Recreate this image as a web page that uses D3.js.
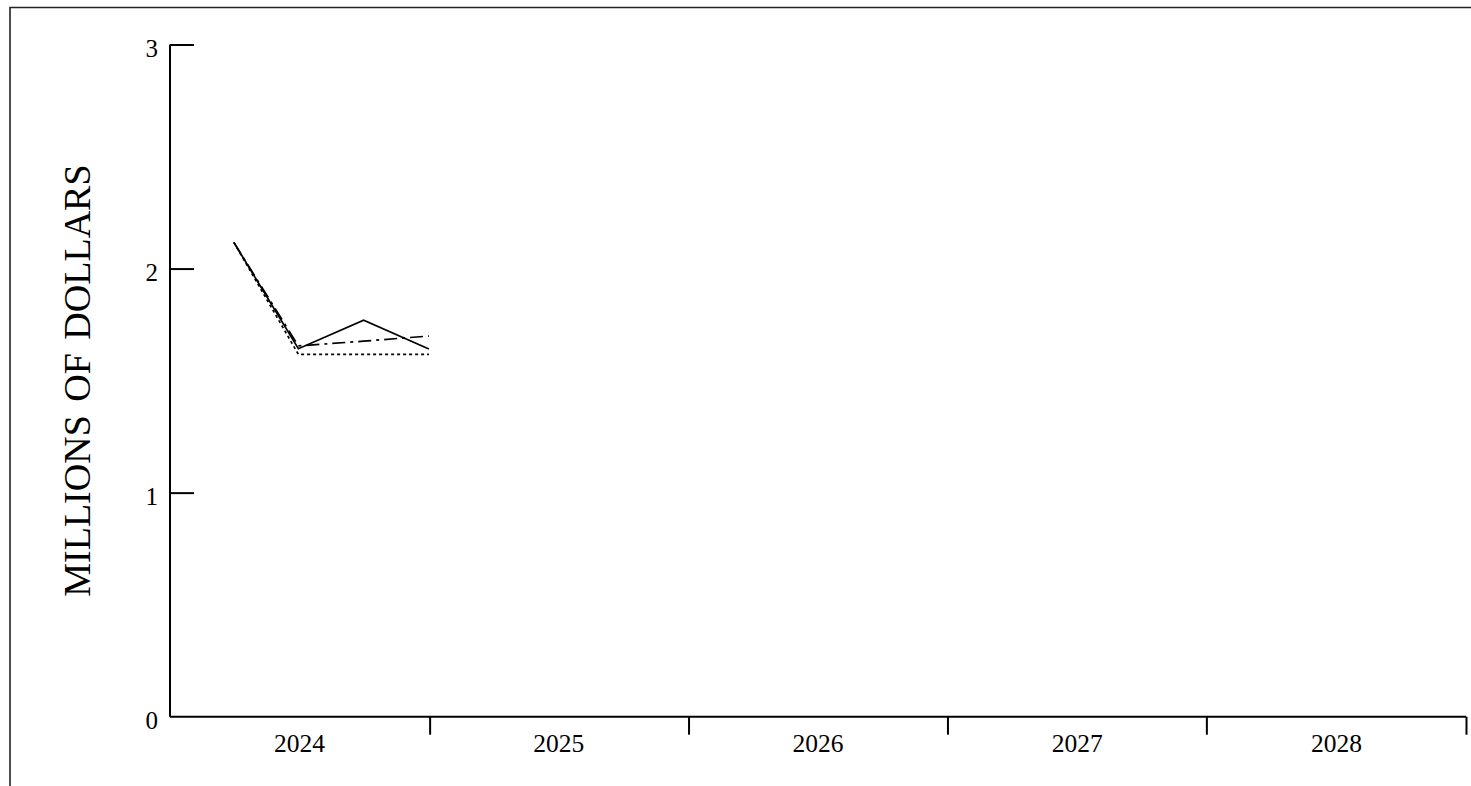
<!DOCTYPE html>
<html>
<head>
<meta charset="utf-8">
<script src="https://cdn.jsdelivr.net/npm/d3@7"></script>
<style>
  html, body { margin: 0; padding: 0; background: #fff; }
  svg { display: block; }
  text { font-family: "Liberation Serif", "Times New Roman", Times, serif; fill: #000; }
</style>
</head>
<body>
<svg id="chart" width="1471" height="786"></svg>
<script>
// ---- data ----
const categories = ["2024", "2025", "2026", "2027", "2028"];
const dates = ["2024-03-31", "2024-06-30", "2024-09-30", "2024-12-31"];
const actualValues = [2.117, 1.642, 1.770, 1.641];
const dashDotValues = [2.117, 1.655, 1.676, 1.699];
const dottedValues = [2.117, 1.617, 1.617, 1.617];
const yTickValues = [0, 1, 2, 3];
const yTitle = "MILLIONS OF DOLLARS";

// ---- layout ----
const W = 1471, H = 786;
const mLeft = 170, mRight = 1466, mTop = 44.5, mBottom = 716.7;

const svg = d3.select("#chart");
const parse = d3.utcParse("%Y-%m-%d");

const x = d3.scaleUtc()
  .domain([parse("2024-01-01"), parse("2029-01-01")])
  .range([mLeft, mRight]);
const xBand = d3.scaleBand().domain(categories).range([mLeft, mRight]).padding(0);
const y = d3.scaleLinear().domain([0, 3]).range([mBottom, mTop]);

// frame lines (top and left)
svg.append("path")
  .attr("d", d3.line()([[10, H], [10, 7.5], [W, 7.5]]))
  .attr("fill", "none").attr("stroke", "#222").attr("stroke-width", 1.6);

// y axis
const yAxis = svg.append("g").attr("transform", `translate(${mLeft},0)`)
  .call(d3.axisRight(y).tickValues(yTickValues).tickSize(24).tickFormat(""));
yAxis.select(".domain").attr("d", `M0,${mTop}V${mBottom}`);
yAxis.selectAll("line,path").attr("stroke", "#000").attr("stroke-width", 2);
yAxis.selectAll(".tick").filter(d => d === 0).select("line").remove();

svg.append("g").selectAll("text").data(yTickValues).join("text")
  .attr("x", mLeft - 12).attr("y", d => y(d) + 12)
  .attr("text-anchor", "end").attr("font-size", 25)
  .text(d => d);

// x axis
const xAxis = svg.append("g").attr("transform", `translate(0,${mBottom})`)
  .call(d3.axisBottom(x)
    .tickValues(categories.map(c => parse((+c + 1) + "-01-01")))
    .tickSize(18).tickFormat(""));
xAxis.select(".domain").attr("d", `M${mLeft},0H${mRight}`);
xAxis.selectAll("line,path").attr("stroke", "#000").attr("stroke-width", 2);

svg.append("g").selectAll("text").data(categories).join("text")
  .attr("x", d => xBand(d) + xBand.bandwidth() / 2)
  .attr("y", mBottom + 35)
  .attr("text-anchor", "middle").attr("font-size", 25.5)
  .text(d => d);

// y title
svg.append("text")
  .attr("transform", `translate(90,${(mTop + mBottom) / 2}) rotate(-90)`)
  .attr("text-anchor", "middle").attr("font-size", 38)
  .attr("word-spacing", 4)
  .text(yTitle);

// series
const line = d3.line().x(d => x(d.date)).y(d => y(d.value));
const mk = vals => dates.map((d, i) => ({ date: parse(d), value: vals[i] }));

svg.append("path").datum(mk(dottedValues)).attr("d", line)
  .attr("fill", "none").attr("stroke", "#000").attr("stroke-width", 1.7)
  .attr("stroke-dasharray", "3,3");
svg.append("path").datum(mk(dashDotValues)).attr("d", line)
  .attr("fill", "none").attr("stroke", "#000").attr("stroke-width", 1.7)
  .attr("stroke-dasharray", "13,5,3,5");
svg.append("path").datum(mk(actualValues)).attr("d", line)
  .attr("fill", "none").attr("stroke", "#000").attr("stroke-width", 1.7);
</script>
</body>
</html>
